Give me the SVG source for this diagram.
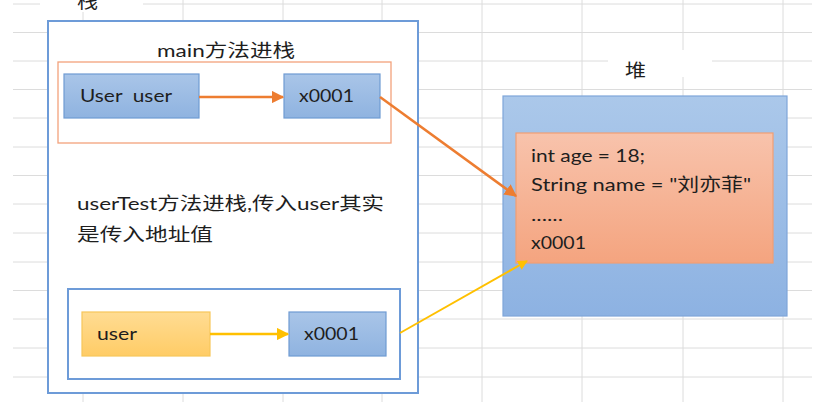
<svg xmlns="http://www.w3.org/2000/svg" width="826" height="402" viewBox="0 0 826 402">
<defs>
<style>
.grid line{stroke:#dcdcdc;stroke-width:1}
.t{font-family:Lato,"Noto Sans CJK SC",sans-serif;font-size:18px;fill:#1e1e1e}
.blue{fill:url(#gBlue);stroke:#6f9bd3;stroke-width:1.2}
.frame{fill:#fff;stroke:#6d9bd8;stroke-width:2}
</style>
<linearGradient id="gBlue" x1="0" y1="0" x2="0" y2="1"><stop offset="0" stop-color="#a9c5e8"/><stop offset="1" stop-color="#8fb3e0"/></linearGradient>
<linearGradient id="gHeap" x1="0" y1="0" x2="0" y2="1"><stop offset="0" stop-color="#abc8ea"/><stop offset="1" stop-color="#8db2e2"/></linearGradient>
<linearGradient id="gSalmon" x1="0" y1="0" x2="0" y2="1"><stop offset="0" stop-color="#f8c3ac"/><stop offset="1" stop-color="#f4a47f"/></linearGradient>
<linearGradient id="gYellow" x1="0" y1="0" x2="0" y2="1"><stop offset="0" stop-color="#ffdc93"/><stop offset="1" stop-color="#ffcc66"/></linearGradient>
<marker id="aOr" viewBox="0 0 10 10" refX="9" refY="5" markerWidth="5" markerHeight="5" orient="auto" markerUnits="strokeWidth"><path d="M0,0 L10,5 L0,10 z" fill="#ed7d31"/></marker>
<marker id="aYe" viewBox="0 0 10 10" refX="9" refY="5" markerWidth="5" markerHeight="5" orient="auto" markerUnits="strokeWidth"><path d="M0,0 L10,5 L0,10 z" fill="#ffc000"/></marker>
</defs>
<rect width="826" height="402" fill="#fff"/>
<g class="grid">
<line x1="13" y1="4" x2="812" y2="4"/><line x1="13" y1="32.5" x2="812" y2="32.5"/><line x1="13" y1="61" x2="812" y2="61"/><line x1="13" y1="89.5" x2="812" y2="89.5"/><line x1="13" y1="118" x2="812" y2="118"/><line x1="13" y1="147" x2="812" y2="147"/><line x1="13" y1="175.5" x2="812" y2="175.5"/><line x1="13" y1="204" x2="812" y2="204"/><line x1="13" y1="233" x2="812" y2="233"/><line x1="13" y1="262" x2="812" y2="262"/><line x1="13" y1="290.5" x2="812" y2="290.5"/><line x1="13" y1="319" x2="812" y2="319"/><line x1="13" y1="348" x2="812" y2="348"/><line x1="13" y1="377" x2="812" y2="377"/>
<line x1="83" y1="0" x2="83" y2="402"/><line x1="183" y1="0" x2="183" y2="402"/><line x1="283" y1="0" x2="283" y2="402"/><line x1="382" y1="0" x2="382" y2="402"/><line x1="482" y1="0" x2="482" y2="402"/><line x1="582" y1="0" x2="582" y2="402"/><line x1="683" y1="0" x2="683" y2="402"/><line x1="783" y1="0" x2="783" y2="402"/>
</g>
<g id="stack">
<rect x="40" y="0" width="103" height="12" fill="#fff"/>
<text class="t" x="77" y="8" textLength="21" lengthAdjust="spacingAndGlyphs">栈</text>
<rect class="frame" x="48" y="21" width="370" height="372"/>
</g>
<g id="main-frame">
<text class="t" x="157" y="57" textLength="138" lengthAdjust="spacingAndGlyphs">main方法进栈</text>
<rect x="58" y="62" width="333" height="81" fill="#fff" stroke="#f3a27c" stroke-width="1.3"/>
</g>
<g id="user-user"><rect class="blue" x="64" y="74" width="135" height="44"/><text class="t" x="80" y="102" textLength="92" lengthAdjust="spacingAndGlyphs" xml:space="preserve">User  user</text></g>
<g id="addr-main"><rect class="blue" x="284" y="74" width="96" height="44"/><text class="t" x="299" y="102" textLength="55" lengthAdjust="spacingAndGlyphs">x0001</text></g>
<g id="note"><text class="t" x="77" y="210" textLength="307" lengthAdjust="spacingAndGlyphs">userTest方法进栈,传入user其实</text><text class="t" x="77" y="241" textLength="136" lengthAdjust="spacingAndGlyphs">是传入地址值</text></g>
<g id="usertest-frame"><rect x="68" y="289" width="332" height="90" fill="#fff" stroke="#6d9bd8" stroke-width="2"/></g>
<g id="user"><rect x="82" y="312" width="128" height="44" fill="url(#gYellow)" stroke="#f7c65a" stroke-width="1.2"/><text class="t" x="97" y="340" textLength="40" lengthAdjust="spacingAndGlyphs">user</text></g>
<g id="addr-test"><rect class="blue" x="289" y="312" width="97" height="44"/><text class="t" x="304" y="340" textLength="55" lengthAdjust="spacingAndGlyphs">x0001</text></g>
<g id="heap">
<rect x="608" y="50" width="104" height="27" fill="#fff"/>
<text class="t" x="625" y="77" textLength="21" lengthAdjust="spacingAndGlyphs">堆</text>
<rect x="503" y="96" width="284" height="220" fill="url(#gHeap)" stroke="#7fa6d9" stroke-width="1.2"/>
</g>
<g id="object">
<rect x="516" y="133" width="257" height="130" fill="url(#gSalmon)" stroke="#f29e73" stroke-width="1.2"/>
<text class="t" x="531" y="162" textLength="114" lengthAdjust="spacingAndGlyphs">int age = 18;</text>
<text class="t" x="531" y="191" textLength="220" lengthAdjust="spacingAndGlyphs">String name = "刘亦菲"</text>
<text class="t" x="531" y="221" textLength="32" lengthAdjust="spacingAndGlyphs">......</text>
<text class="t" x="531" y="249" textLength="55" lengthAdjust="spacingAndGlyphs">x0001</text>
</g>
<g id="connectors" fill="none" stroke-width="2.5">
<line x1="199" y1="97" x2="283" y2="97" stroke="#ed7d31" marker-end="url(#aOr)"/>
<line x1="380" y1="97" x2="516" y2="196" stroke="#ed7d31" marker-end="url(#aOr)"/>
<line x1="210" y1="334" x2="288" y2="334" stroke="#ffc000" marker-end="url(#aYe)"/>
<line x1="400" y1="333" x2="527" y2="261" stroke="#ffc000" stroke-width="2" marker-end="url(#aYe)"/>
</g>
</svg>
